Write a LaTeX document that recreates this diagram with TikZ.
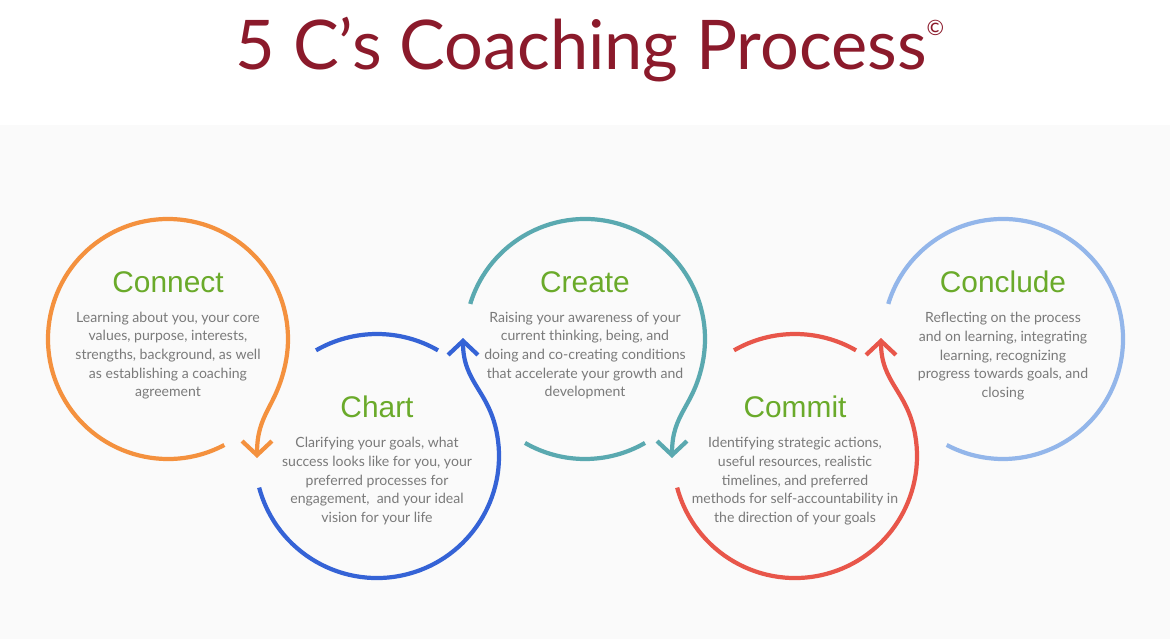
\documentclass[tikz,border=0pt]{standalone}
\usepackage{fontspec}
\setmainfont{Lato}
\newfontfamily\headfont{Liberation Sans}
\usetikzlibrary{arrows.meta,positioning}
\definecolor{titlered}{HTML}{8B1A2B}
\definecolor{stepgreen}{HTML}{6AAA2A}
\definecolor{bodygray}{HTML}{7A7A7A}
\definecolor{cOrange}{HTML}{F4913E}
\definecolor{cBlue}{HTML}{3563D6}
\definecolor{cTeal}{HTML}{5AA9B0}
\definecolor{cRed}{HTML}{E8564A}
\definecolor{cSky}{HTML}{93B6EA}
\begin{document}
\begin{tikzpicture}[x=0.02cm,y=-0.02cm,line width=2.4pt,
  tip/.style={-{Straight Barb[length=8pt,width=17pt,line width=2.4pt]}},
  stepname/.style={text=stepgreen,font=\headfont\fontsize{17}{20}\selectfont},
  stepbody/.style={text=bodygray,align=center,font=\fontsize{8}{10.6}\selectfont}]
  \useasboundingbox (0,0) rectangle (1170,639);
  \fill[black!2] (0,125) rectangle (1170,639);

  \node[text=titlered,font=\fontsize{39}{46}\selectfont] (title) at (590,50)
    {5 C's Coaching Process\raisebox{0.5em}{\fontsize{12}{12}\selectfont\textcopyright}};

  % connect
  \draw[cOrange,tip] (168,339) ++(62:120) arc[start angle=62,end angle=372,radius=120]
    .. controls +(102:45) and +(270:45) .. (257,458);
  % chart
  \draw[cBlue,tip] (377,456) ++(165:122) arc[start angle=165,end angle=-10,radius=122]
    .. controls +(-100:45) and +(90:45) .. (463,338);
  \draw[cBlue] (377,456) ++(240:122) arc[start angle=240,end angle=300,radius=122];
  % create
  \draw[cTeal,tip] (585,339) ++(197:120) arc[start angle=197,end angle=372,radius=120]
    .. controls +(102:45) and +(270:45) .. (672,458);
  \draw[cTeal] (585,339) ++(60:120) arc[start angle=60,end angle=120,radius=120];
  % commit
  \draw[cRed,tip] (795,456) ++(165:122) arc[start angle=165,end angle=-10,radius=122]
    .. controls +(-100:45) and +(90:45) .. (881,338);
  \draw[cRed] (795,456) ++(240:122) arc[start angle=240,end angle=300,radius=122];
  % conclude
  \draw[cSky] (1003,339) ++(197:120) arc[start angle=197,end angle=478,radius=120];

  \node[stepname] (connect) at (168,282) {Connect};
  \node[stepbody,below=2pt of connect] (connectText) {Learning about you, your core\\values, purpose, interests,\\strengths, background, as well\\as establishing a coaching\\agreement};
  \node[stepname] (chart) at (377,407) {Chart};
  \node[stepbody,below=2pt of chart] (chartText) {Clarifying your goals, what\\success looks like for you, your\\preferred processes for\\engagement,\ \ and your ideal\\vision for your life};
  \node[stepname] (create) at (585,282) {Create};
  \node[stepbody,below=2pt of create] (createText) {Raising your awareness of your\\current thinking, being, and\\doing and co-creating conditions\\that accelerate your growth and\\development};
  \node[stepname] (commit) at (795,407) {Commit};
  \node[stepbody,below=2pt of commit] (commitText) {Identifying strategic actions,\\useful resources, realistic\\timelines, and preferred\\methods for self-accountability in\\the direction of your goals};
  \node[stepname] (conclude) at (1003,282) {Conclude};
  \node[stepbody,below=2pt of conclude] (concludeText) {Reflecting on the process\\and on learning, integrating\\learning, recognizing\\progress towards goals, and\\closing};
\end{tikzpicture}
\end{document}
